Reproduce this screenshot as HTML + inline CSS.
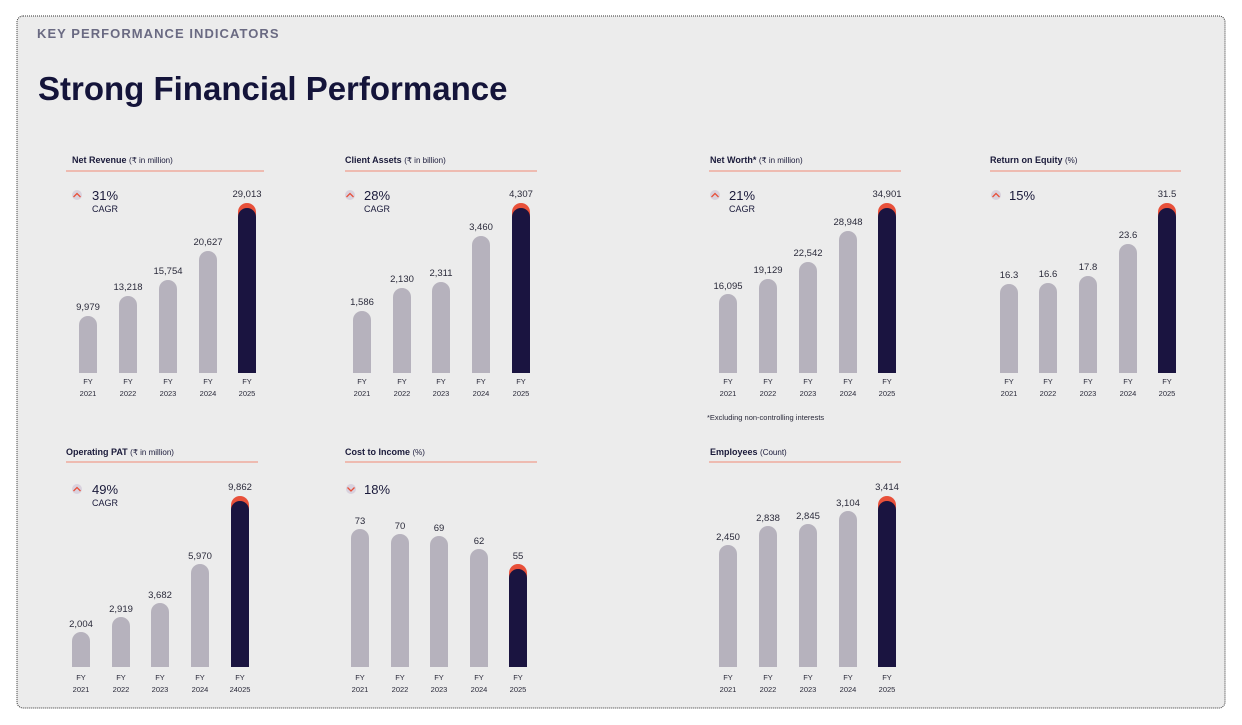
<!DOCTYPE html>
<html><head><meta charset="utf-8"><style>
body{margin:0;background:#fff;}
svg{display:block;font-family:"Liberation Sans",sans-serif;}
.t{font-size:9px;font-weight:bold;fill:#1a1a3a}
.u{font-size:8px;fill:#1a1a3a;font-weight:normal}
.v{font-size:9.5px;fill:#2a2a3a;text-anchor:middle}
.f{font-size:7.5px;fill:#2a2a3a;text-anchor:middle}
.p{font-size:13px;fill:#1a1a3a}
.c{font-size:9px;fill:#1a1a3a}
.g{fill:#b6b2bd}
.d{fill:#1a1440}
.r{fill:#e8503a}
.l{stroke:#ef8a76;stroke-width:1}
</style></head><body>
<svg width="1242" height="725" viewBox="0 0 1242 725">
<rect x="17" y="16" width="1208" height="692" rx="6" fill="#ececec" stroke="#333" stroke-width="1" stroke-dasharray="1,1"/>
<text x="37" y="38" style="font-size:13px;font-weight:bold;fill:#6a6a82;letter-spacing:1.05px">KEY PERFORMANCE INDICATORS</text>
<text x="38" y="100" style="font-size:33px;font-weight:bold;fill:#14143a">Strong Financial Performance</text>

<!-- Net Revenue -->
<text x="72" y="163" class="t">Net Revenue <tspan class="u">(₹ in million)</tspan></text>
<line x1="66" y1="171" x2="264" y2="171" class="l"/>
<circle cx="77" cy="195" r="5" fill="#d9d2de"/><path d="M73.5,197 L77,193.5 L80.5,197" stroke="#e8503a" fill="none" stroke-width="1.3"/>
<text x="92" y="200" class="p">31%</text><text x="92" y="212" class="c">CAGR</text>
<path class="g" d="M79,373V325a9,9 0 0 1 18,0V373Z"/>
<path class="g" d="M119,373V305a9,9 0 0 1 18,0V373Z"/>
<path class="g" d="M159,373V289a9,9 0 0 1 18,0V373Z"/>
<path class="g" d="M199,373V260a9,9 0 0 1 18,0V373Z"/>
<path class="r" d="M238,373V212a9,9 0 0 1 18,0V373Z"/><path class="d" d="M238,373V217a9,9 0 0 1 18,0V373Z"/>
<text x="88" y="310" class="v">9,979</text><text x="128" y="290" class="v">13,218</text><text x="168" y="274" class="v">15,754</text><text x="208" y="245" class="v">20,627</text><text x="247" y="197" class="v">29,013</text>
<text class="f" x="88" y="384">FY</text><text class="f" x="88" y="396">2021</text>
<text class="f" x="128" y="384">FY</text><text class="f" x="128" y="396">2022</text>
<text class="f" x="168" y="384">FY</text><text class="f" x="168" y="396">2023</text>
<text class="f" x="208" y="384">FY</text><text class="f" x="208" y="396">2024</text>
<text class="f" x="247" y="384">FY</text><text class="f" x="247" y="396">2025</text>

<!-- Client Assets -->
<text x="345" y="163" class="t">Client Assets <tspan class="u">(₹ in billion)</tspan></text>
<line x1="345" y1="171" x2="537" y2="171" class="l"/>
<circle cx="350" cy="195" r="5" fill="#d9d2de"/><path d="M346.5,197 L350,193.5 L353.5,197" stroke="#e8503a" fill="none" stroke-width="1.3"/>
<text x="364" y="200" class="p">28%</text><text x="364" y="212" class="c">CAGR</text>
<path class="g" d="M353,373V320a9,9 0 0 1 18,0V373Z"/>
<path class="g" d="M393,373V297a9,9 0 0 1 18,0V373Z"/>
<path class="g" d="M432,373V291a9,9 0 0 1 18,0V373Z"/>
<path class="g" d="M472,373V245a9,9 0 0 1 18,0V373Z"/>
<path class="r" d="M512,373V212a9,9 0 0 1 18,0V373Z"/><path class="d" d="M512,373V217a9,9 0 0 1 18,0V373Z"/>
<text x="362" y="305" class="v">1,586</text><text x="402" y="282" class="v">2,130</text><text x="441" y="276" class="v">2,311</text><text x="481" y="230" class="v">3,460</text><text x="521" y="197" class="v">4,307</text>
<text class="f" x="362" y="384">FY</text><text class="f" x="362" y="396">2021</text>
<text class="f" x="402" y="384">FY</text><text class="f" x="402" y="396">2022</text>
<text class="f" x="441" y="384">FY</text><text class="f" x="441" y="396">2023</text>
<text class="f" x="481" y="384">FY</text><text class="f" x="481" y="396">2024</text>
<text class="f" x="521" y="384">FY</text><text class="f" x="521" y="396">2025</text>

<!-- Net Worth -->
<text x="710" y="163" class="t">Net Worth* <tspan class="u">(₹ in million)</tspan></text>
<line x1="709" y1="171" x2="901" y2="171" class="l"/>
<circle cx="715" cy="195" r="5" fill="#d9d2de"/><path d="M711.5,197 L715,193.5 L718.5,197" stroke="#e8503a" fill="none" stroke-width="1.3"/>
<text x="729" y="200" class="p">21%</text><text x="729" y="212" class="c">CAGR</text>
<path class="g" d="M719,373V303a9,9 0 0 1 18,0V373Z"/>
<path class="g" d="M759,373V288a9,9 0 0 1 18,0V373Z"/>
<path class="g" d="M799,373V271a9,9 0 0 1 18,0V373Z"/>
<path class="g" d="M839,373V240a9,9 0 0 1 18,0V373Z"/>
<path class="r" d="M878,373V212a9,9 0 0 1 18,0V373Z"/><path class="d" d="M878,373V217a9,9 0 0 1 18,0V373Z"/>
<text x="728" y="289" class="v">16,095</text><text x="768" y="273" class="v">19,129</text><text x="808" y="256" class="v">22,542</text><text x="848" y="225" class="v">28,948</text><text x="887" y="197" class="v">34,901</text>
<text class="f" x="728" y="384">FY</text><text class="f" x="728" y="396">2021</text>
<text class="f" x="768" y="384">FY</text><text class="f" x="768" y="396">2022</text>
<text class="f" x="808" y="384">FY</text><text class="f" x="808" y="396">2023</text>
<text class="f" x="848" y="384">FY</text><text class="f" x="848" y="396">2024</text>
<text class="f" x="887" y="384">FY</text><text class="f" x="887" y="396">2025</text>
<text x="707" y="420" style="font-size:7.5px;fill:#2a2a3a">*Excluding non-controlling interests</text>

<!-- ROE -->
<text x="990" y="163" class="t">Return on Equity <tspan class="u">(%)</tspan></text>
<line x1="990" y1="171" x2="1181" y2="171" class="l"/>
<circle cx="996" cy="195" r="5" fill="#d9d2de"/><path d="M992.5,197 L996,193.5 L999.5,197" stroke="#e8503a" fill="none" stroke-width="1.3"/>
<text x="1009" y="200" class="p">15%</text>
<path class="g" d="M1000,373V293a9,9 0 0 1 18,0V373Z"/>
<path class="g" d="M1039,373V292a9,9 0 0 1 18,0V373Z"/>
<path class="g" d="M1079,373V285a9,9 0 0 1 18,0V373Z"/>
<path class="g" d="M1119,373V253a9,9 0 0 1 18,0V373Z"/>
<path class="r" d="M1158,373V212a9,9 0 0 1 18,0V373Z"/><path class="d" d="M1158,373V217a9,9 0 0 1 18,0V373Z"/>
<text x="1009" y="278" class="v">16.3</text><text x="1048" y="277" class="v">16.6</text><text x="1088" y="270" class="v">17.8</text><text x="1128" y="238" class="v">23.6</text><text x="1167" y="197" class="v">31.5</text>
<text class="f" x="1009" y="384">FY</text><text class="f" x="1009" y="396">2021</text>
<text class="f" x="1048" y="384">FY</text><text class="f" x="1048" y="396">2022</text>
<text class="f" x="1088" y="384">FY</text><text class="f" x="1088" y="396">2023</text>
<text class="f" x="1128" y="384">FY</text><text class="f" x="1128" y="396">2024</text>
<text class="f" x="1167" y="384">FY</text><text class="f" x="1167" y="396">2025</text>

<!-- Operating PAT -->
<text x="66" y="455" class="t">Operating PAT <tspan class="u">(₹ in million)</tspan></text>
<line x1="66" y1="462" x2="258" y2="462" class="l"/>
<circle cx="77" cy="489" r="5" fill="#d9d2de"/><path d="M73.5,491 L77,487.5 L80.5,491" stroke="#e8503a" fill="none" stroke-width="1.3"/>
<text x="92" y="494" class="p">49%</text><text x="92" y="506" class="c">CAGR</text>
<path class="g" d="M72,667V641a9,9 0 0 1 18,0V667Z"/>
<path class="g" d="M112,667V626a9,9 0 0 1 18,0V667Z"/>
<path class="g" d="M151,667V612a9,9 0 0 1 18,0V667Z"/>
<path class="g" d="M191,667V573a9,9 0 0 1 18,0V667Z"/>
<path class="r" d="M231,667V505a9,9 0 0 1 18,0V667Z"/><path class="d" d="M231,667V510a9,9 0 0 1 18,0V667Z"/>
<text x="81" y="627" class="v">2,004</text><text x="121" y="612" class="v">2,919</text><text x="160" y="598" class="v">3,682</text><text x="200" y="559" class="v">5,970</text><text x="240" y="490" class="v">9,862</text>
<text class="f" x="81" y="680">FY</text><text class="f" x="81" y="692">2021</text>
<text class="f" x="121" y="680">FY</text><text class="f" x="121" y="692">2022</text>
<text class="f" x="160" y="680">FY</text><text class="f" x="160" y="692">2023</text>
<text class="f" x="200" y="680">FY</text><text class="f" x="200" y="692">2024</text>
<text class="f" x="240" y="680">FY</text><text class="f" x="240" y="692">24025</text>

<!-- Cost to Income -->
<text x="345" y="455" class="t">Cost to Income <tspan class="u">(%)</tspan></text>
<line x1="345" y1="462" x2="537" y2="462" class="l"/>
<circle cx="351" cy="489" r="5" fill="#d9d2de"/><path d="M347.5,487.5 L351,491 L354.5,487.5" stroke="#e8503a" fill="none" stroke-width="1.3"/>
<text x="364" y="494" class="p">18%</text>
<path class="g" d="M351,667V538a9,9 0 0 1 18,0V667Z"/>
<path class="g" d="M391,667V543a9,9 0 0 1 18,0V667Z"/>
<path class="g" d="M430,667V545a9,9 0 0 1 18,0V667Z"/>
<path class="g" d="M470,667V558a9,9 0 0 1 18,0V667Z"/>
<path class="r" d="M509,667V573a9,9 0 0 1 18,0V667Z"/><path class="d" d="M509,667V578a9,9 0 0 1 18,0V667Z"/>
<text x="360" y="524" class="v">73</text><text x="400" y="529" class="v">70</text><text x="439" y="531" class="v">69</text><text x="479" y="544" class="v">62</text><text x="518" y="559" class="v">55</text>
<text class="f" x="360" y="680">FY</text><text class="f" x="360" y="692">2021</text>
<text class="f" x="400" y="680">FY</text><text class="f" x="400" y="692">2022</text>
<text class="f" x="439" y="680">FY</text><text class="f" x="439" y="692">2023</text>
<text class="f" x="479" y="680">FY</text><text class="f" x="479" y="692">2024</text>
<text class="f" x="518" y="680">FY</text><text class="f" x="518" y="692">2025</text>

<!-- Employees -->
<text x="710" y="455" class="t">Employees <tspan class="u">(Count)</tspan></text>
<line x1="709" y1="462" x2="901" y2="462" class="l"/>
<path class="g" d="M719,667V554a9,9 0 0 1 18,0V667Z"/>
<path class="g" d="M759,667V535a9,9 0 0 1 18,0V667Z"/>
<path class="g" d="M799,667V533a9,9 0 0 1 18,0V667Z"/>
<path class="g" d="M839,667V520a9,9 0 0 1 18,0V667Z"/>
<path class="r" d="M878,667V505a9,9 0 0 1 18,0V667Z"/><path class="d" d="M878,667V510a9,9 0 0 1 18,0V667Z"/>
<text x="728" y="540" class="v">2,450</text><text x="768" y="521" class="v">2,838</text><text x="808" y="519" class="v">2,845</text><text x="848" y="506" class="v">3,104</text><text x="887" y="490" class="v">3,414</text>
<text class="f" x="728" y="680">FY</text><text class="f" x="728" y="692">2021</text>
<text class="f" x="768" y="680">FY</text><text class="f" x="768" y="692">2022</text>
<text class="f" x="808" y="680">FY</text><text class="f" x="808" y="692">2023</text>
<text class="f" x="848" y="680">FY</text><text class="f" x="848" y="692">2024</text>
<text class="f" x="887" y="680">FY</text><text class="f" x="887" y="692">2025</text>
</svg>
</body></html>
